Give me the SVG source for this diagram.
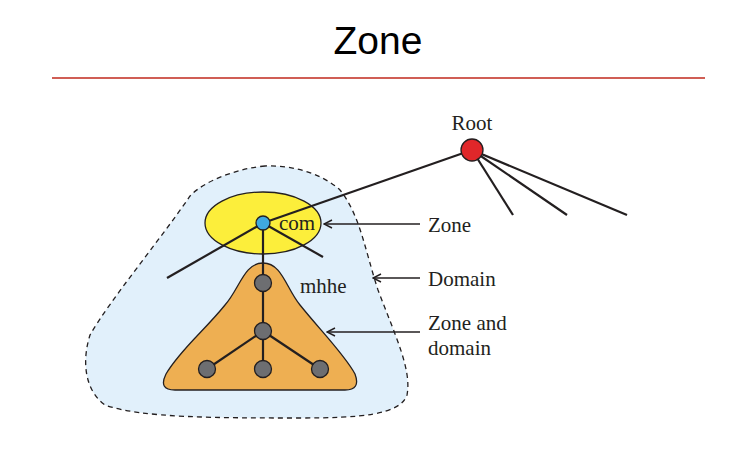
<svg xmlns="http://www.w3.org/2000/svg" width="742" height="452" viewBox="0 0 742 452">
<style>
.t{font-family:"Liberation Serif",serif;font-size:21px;fill:#231f20}
.e{stroke:#231f20;stroke-width:2.2;fill:none}
.a{stroke:#231f20;stroke-width:1.4;fill:none}
.g{fill:#6d6e71;stroke:#231f20;stroke-width:1.3}
</style>
<defs>
<marker id="ah" viewBox="0 0 10 10" refX="9" refY="5" markerWidth="10" markerHeight="10" markerUnits="userSpaceOnUse" orient="auto">
<path d="M1,1 L9,5 L1,9" fill="none" stroke="#231f20" stroke-width="1.4"/>
</marker>
</defs>
<rect width="742" height="452" fill="#fff"/>
<text x="378" y="54" text-anchor="middle" font-family="Liberation Sans,Arial,sans-serif" font-size="39" fill="#000">Zone</text>
<line x1="52" y1="78" x2="705" y2="78" stroke="#c0281c" stroke-width="1.3"/>
<g id="domain">
<path d="M265,166 C240,168 205,180 190,196 C160,240 110,300 90,335 C82,360 84,390 105,405 C140,418 220,418 300,418 C360,418 400,415 407,395 C412,370 395,335 378,290 C365,250 360,215 340,190 C320,172 290,165 265,166 Z" fill="#e1f0fb" stroke="#231f20" stroke-width="1.3" stroke-dasharray="5,4"/>
</g>
<g id="zone">
<ellipse cx="263" cy="223" rx="58" ry="31" fill="#fcee3b" stroke="#231f20" stroke-width="1.3"/>
</g>
<g id="zone-and-domain">
<path d="M263,263 C282,263 286,288 300,305 C320,330 345,355 355,374 Q361,390 345,390 L175,390 Q158,390 166,374 C180,350 205,330 225,305 C240,288 244,263 263,263 Z" fill="#eeaf52" stroke="#231f20" stroke-width="1.3"/>
</g>
<g id="connectors">
<line class="e" x1="472" y1="150" x2="263" y2="223"/>
<line class="e" x1="472" y1="150" x2="513" y2="215"/>
<line class="e" x1="472" y1="150" x2="567" y2="215"/>
<line class="e" x1="472" y1="150" x2="627" y2="215"/>
<line class="e" x1="263" y1="223" x2="167" y2="278"/>
<line class="e" x1="263" y1="223" x2="323" y2="257"/>
<line class="e" x1="263" y1="223" x2="263" y2="369"/>
<line class="e" x1="263" y1="331" x2="207" y2="369"/>
<line class="e" x1="263" y1="331" x2="320" y2="369"/>
<line class="a" x1="420" y1="224" x2="324" y2="224" marker-end="url(#ah)"/>
<line class="a" x1="420" y1="278" x2="373" y2="278" marker-end="url(#ah)"/>
<line class="a" x1="420" y1="332" x2="327" y2="332" marker-end="url(#ah)"/>
</g>
<g id="root">
<circle cx="472" cy="150" r="11" fill="#e0272a" stroke="#231f20" stroke-width="1.3"/>
<text class="t" x="472" y="130" text-anchor="middle">Root</text>
</g>
<g id="com">
<circle cx="263" cy="223" r="7" fill="#3fa9e0" stroke="#231f20" stroke-width="1.3"/>
<text class="t" x="279" y="230">com</text>
</g>
<g id="mhhe">
<circle class="g" cx="263" cy="283" r="8.5"/>
<text class="t" x="300" y="293">mhhe</text>
</g>
<g id="n2"><circle class="g" cx="263" cy="331" r="8.5"/></g>
<g id="n3"><circle class="g" cx="207" cy="369" r="8.5"/></g>
<g id="n4"><circle class="g" cx="263" cy="369" r="8.5"/></g>
<g id="n5"><circle class="g" cx="320" cy="369" r="8.5"/></g>
<g id="labels">
<text class="t" x="428" y="232">Zone</text>
<text class="t" x="428" y="286">Domain</text>
<text class="t" x="428" y="330">Zone and</text>
<text class="t" x="428" y="355">domain</text>
</g>
</svg>
